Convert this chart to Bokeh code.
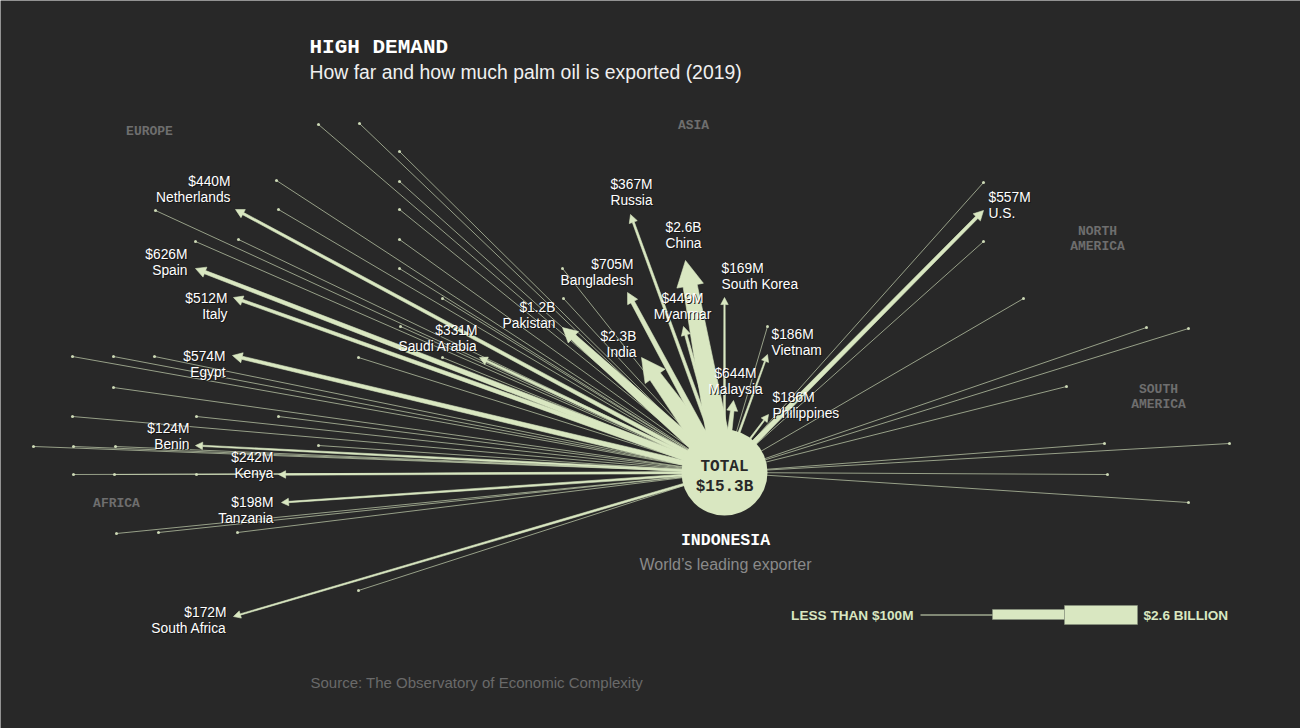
import math
from bokeh.plotting import figure
from bokeh.models import Range1d, ColumnDataSource
from bokeh.core.properties import value
from bokeh.embed import file_html
from bokeh.resources import INLINE

# ---------------- data ----------------
exporter = "INDONESIA"
total_text = "$15.3B"

# labelled destinations, export value in $ billions
countries = ["Netherlands", "Spain", "Italy", "Egypt", "Benin", "Kenya", "Tanzania",
             "South Africa", "Saudi Arabia", "Pakistan", "India", "Bangladesh", "Russia",
             "China", "Myanmar", "South Korea", "Malaysia", "Vietnam", "Philippines", "U.S."]
values_b = [0.440, 0.626, 0.512, 0.574, 0.124, 0.242, 0.198,
            0.172, 0.331, 1.2, 2.3, 0.705, 0.367,
            2.6, 0.449, 0.169, 0.644, 0.186, 0.186, 0.557]
value_text = ["$440M", "$626M", "$512M", "$574M", "$124M", "$242M", "$198M",
              "$172M", "$331M", "$1.2B", "$2.3B", "$705M", "$367M",
              "$2.6B", "$449M", "$169M", "$644M", "$186M", "$186M", "$557M"]
# destination position relative to Indonesia (chart units, x right, y down)
dest_dx = [-489, -529, -491, -492, -529, -446, -443,
           -491, -245, -162, -83, -97, -94,
           -39, -41, 0, 9, 43, 44, 259]
dest_dy = [-263, -204, -175, -117, -27, 2, 30,
           144, -115, -145, -115, -180, -258,
           -212, -146, -175, -72, -118, -58, -262]

# destinations under $100M (unlabelled), relative positions
small_dx = [-406, -365, -325, -448, -325, -569, -446, -325, -486, -325, -529, -325,
            -282, -324, -282, -366, -162, -161,
            -652, -611, -570, -611, -652, -528, -446, -691, -651, -609, -406,
            -651, -610, -528, -608, -566, -487, -366,
            259, 259, 299, 422, 464, 342, 380, 505, 383, 464, 43]
small_dy = [-348, -349, -321, -292, -291, -262, -263, -263, -233, -233, -231, -204,
            -174, -146, -115, -115, -204, -174,
            -116, -116, -116, -85, -56, -56, -56, -26, -26, -26, -27,
            2, 2, 2, 61, 60, 60, 118,
            -290, -231, -174, -145, -144, -86, -29, -29, 2, 30, -146]

regions = ["EUROPE", "ASIA", "NORTH", "AMERICA", "SOUTH", "AMERICA", "AFRICA"]

legend_low = "LESS THAN $100M"
legend_high = "$2.6 BILLION"

# ---------------- layout ----------------
W, H = 1300, 728
BG = "#282828"
GREEN = "#d9e7c1"
CX, CY = 724, 472
R = 43

label_x = [230, 187, 227, 225, 189, 273, 273, 226, 477, 555, 636, 633, 631,
           683, 682, 721, 735, 771, 772, 988]
label_y = [181, 254, 298, 356, 428, 457, 502, 612, 330, 307, 336, 264, 184,
           227, 298, 268, 373, 334, 397, 197]
label_align = ["right"] * 12 + ["center", "center", "center", "left", "center", "left", "left", "left"]

region_x = [149, 693, 1097, 1097, 1158, 1158, 116]
region_y = [131, 125, 231, 246, 389, 404, 503]

p = figure(width=W, height=H, x_range=Range1d(0, W), y_range=Range1d(H, 0),
           output_backend="svg", toolbar_location=None, min_border=0,
           x_axis_type=None, y_axis_type=None)
p.grid.visible = False
p.outline_line_color = None
p.background_fill_color = BG
p.border_fill_color = BG

# thin lines for small destinations
sx0 = [CX] * len(small_dx)
sy0 = [CY] * len(small_dy)
sx1 = [CX + d for d in small_dx]
sy1 = [CY + d for d in small_dy]
p.segment(x0=sx0, y0=sy0, x1=sx1, y1=sy1, line_color=GREEN, line_width=0.9, line_alpha=0.7)
p.scatter(x=sx1, y=sy1, size=3, color=GREEN, alpha=0.9, line_width=0)


def arrow_poly(dx, dy, v):
    L = math.hypot(dx, dy)
    ux, uy = dx / L, dy / L
    nx, ny = -uy, ux
    we = max(5.5 * v, 1.3)
    wb = we * 1.7
    hw = 1.5 * we + 5.5
    hl = hw * 0.95
    tx, ty = CX + dx, CY + dy
    bx, by = tx - ux * hl, ty - uy * hl
    xs = [CX + nx * wb / 2, bx + nx * we / 2, bx + nx * hw / 2, tx,
          bx - nx * hw / 2, bx - nx * we / 2, CX - nx * wb / 2]
    ys = [CY + ny * wb / 2, by + ny * we / 2, by + ny * hw / 2, ty,
          by - ny * hw / 2, by - ny * we / 2, CY - ny * wb / 2]
    return xs, ys


order = sorted(range(len(countries)), key=lambda i: values_b[i])
pxs, pys = [], []
for i in order:
    xs, ys = arrow_poly(dest_dx[i], dest_dy[i], values_b[i])
    pxs.append(xs)
    pys.append(ys)
p.patches(xs=pxs, ys=pys, fill_color=GREEN, line_color=GREEN, line_width=0.6)

# central circle
p.circle(x=[CX], y=[CY], radius=R, fill_color=GREEN, line_color=None)
p.text(x=[CX, CX], y=[CY - 6, CY + 14], text=["TOTAL", total_text], text_align="center",
       text_baseline="middle", text_font=value("Liberation Mono"), text_font_style="bold",
       text_font_size=value("16px"), text_color=BG)

p.text(x=[CX + 1], y=[540], text=[exporter], text_align="center", text_baseline="middle",
       text_font=value("Liberation Mono"), text_font_style="bold",
       text_font_size=value("16.5px"), text_color="#ffffff")
p.text(x=[CX + 1], y=[564], text=["World\u2019s leading exporter"], text_align="center",
       text_baseline="middle", text_font=value("Liberation Sans"),
       text_font_size=value("16px"), text_color="#8a8a8a")

# arrow labels (with a dark halo)
lab_src = ColumnDataSource(dict(
    x=label_x, y=label_y, y2=[y + 15.5 for y in label_y],
    xs=[x + 1 for x in label_x], ys=[y + 1 for y in label_y], ys2=[y + 16.5 for y in label_y],
    val=value_text, name=countries, align=label_align))
for tx, ty, col in [("xs", "ys", "#141414"), ("x", "y", "#ffffff")]:
    p.text(x=tx, y=ty, text="val", source=lab_src, text_align="align", text_baseline="middle",
           text_font=value("Liberation Sans"), text_font_size=value("13.8px"), text_color=col)
for tx, ty, col in [("xs", "ys2", "#141414"), ("x", "y2", "#ffffff")]:
    p.text(x=tx, y=ty, text="name", source=lab_src, text_align="align", text_baseline="middle",
           text_font=value("Liberation Sans"), text_font_size=value("13.8px"), text_color=col)

# region names
p.text(x=region_x, y=region_y, text=regions, text_align="center", text_baseline="middle",
       text_font=value("Liberation Mono"), text_font_style="bold",
       text_font_size=value("13px"), text_color="#6e6e6e")

# title, subtitle, source
p.text(x=[309], y=[47], text=["HIGH DEMAND"], text_baseline="middle",
       text_font=value("Liberation Mono"), text_font_style="bold",
       text_font_size=value("21px"), text_color="#ffffff")
p.text(x=[309], y=[71], text=["How far and how much palm oil is exported (2019)"],
       text_baseline="middle", text_font=value("Liberation Sans"),
       text_font_size=value("19.4px"), text_color="#f0f0f0")
p.text(x=[310], y=[682], text=["Source: The Observatory of Economic Complexity"],
       text_baseline="middle", text_font=value("Liberation Sans"),
       text_font_size=value("15px"), text_color="#6a6a6a")

# size legend
p.text(x=[913], y=[615], text=[legend_low], text_align="right", text_baseline="middle",
       text_font=value("Liberation Sans"), text_font_style="bold",
       text_font_size=value("13.6px"), text_color=GREEN)
p.segment(x0=[920], y0=[614.5], x1=[993], y1=[614.5], line_color=GREEN, line_width=1)
p.quad(left=[992, 1064], right=[1064, 1137], top=[609, 605], bottom=[619, 624],
       fill_color=GREEN, line_color="#8a9480", line_width=0.6)
p.text(x=[1143], y=[615], text=[legend_high], text_align="left", text_baseline="middle",
       text_font=value("Liberation Sans"), text_font_style="bold",
       text_font_size=value("13.6px"), text_color=GREEN)

open("out.html", "w").write(file_html(p, INLINE))
